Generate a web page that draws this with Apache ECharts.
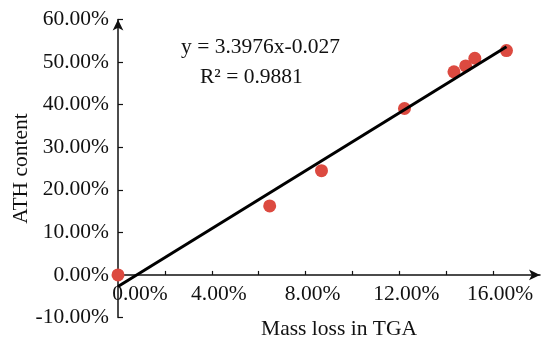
<!DOCTYPE html>
<html>
<head>
<meta charset="utf-8">
<script src="https://cdn.jsdelivr.net/npm/echarts@6/dist/echarts.min.js"></script>
<style>html,body{margin:0;padding:0;background:#fff}#c{width:550px;height:348px}</style>
</head>
<body>
<div id="c"></div>
<script>
var massLoss = [0.0, 0.0647, 0.0868, 0.1222, 0.1433, 0.1483, 0.1522, 0.1657];
var athContent = [0.0, 0.162, 0.245, 0.391, 0.477, 0.491, 0.509, 0.527];
var trendSlope = 3.3976;
var trendIntercept = -0.027;
var equationText = 'y = 3.3976x-0.027';
var r2Text = 'R² = 0.9881';
var xAxisName = 'Mass loss in TGA';
var yAxisName = 'ATH content';

var FONT = '"Liberation Serif", "Times New Roman", serif';
var FS = 21.5;
var GRID_TOP = 19.5, GRID_BOTTOM = 30.5, H = 348;
var yMin = -0.1, yMax = 0.6;
// move x axis up to the y = 0 level
var plotH = H - GRID_TOP - GRID_BOTTOM;
var xOffset = -plotH * (0 - yMin) / (yMax - yMin);

var pts = massLoss.map(function (x, i) { return [x, athContent[i]]; });
var xEnd = Math.max.apply(null, massLoss);
var trend = [[0, trendIntercept], [xEnd, trendSlope * xEnd + trendIntercept]];

var chart = echarts.init(document.getElementById('c'), null, {renderer: 'canvas'});
chart.setOption({
  animation: false,
  backgroundColor: '#fff',
  grid: {left: 118, right: 10, top: GRID_TOP, bottom: GRID_BOTTOM, containLabel: false, outerBoundsMode: 'none'},
  xAxis: {
    type: 'value', min: 0, max: 0.18, interval: 0.02, position: 'bottom', offset: xOffset,
    name: xAxisName, nameLocation: 'middle', nameGap: 43, nameMoveOverlap: false,
    nameTextStyle: {fontFamily: FONT, fontSize: FS, color: '#111', padding: [0, 0, 0, 20], verticalAlign: 'top'},
    axisLine: {onZero: false, lineStyle: {color: '#111', width: 1.5}, symbol: ['none', 'arrow'], symbolSize: [8, 11]},
    axisTick: {inside: true, length: 4, lineStyle: {color: '#111', width: 1.2}},
    splitLine: {show: false},
    axisLabel: {
      margin: 8, fontFamily: FONT, fontSize: FS, color: '#111',
      showMaxLabel: false,
      formatter: function (v, i) {
        if (i % 2 !== 0) return '';
        var t = (v * 100).toFixed(2) + '%';
        return i === 0 ? '{z|' + t + '}' : '{n|' + t + '}';
      },
      rich: {
        z: {fontFamily: FONT, fontSize: FS, color: '#111', padding: [0, 0, 0, 44]},
        n: {fontFamily: FONT, fontSize: FS, color: '#111', padding: [0, 0, 0, 14]}
      }
    }
  },
  yAxis: {
    type: 'value', min: yMin, max: yMax, interval: 0.1,
    name: yAxisName, nameLocation: 'middle', nameGap: 86, nameRotate: 90, nameMoveOverlap: false,
    nameTextStyle: {fontFamily: FONT, fontSize: FS, color: '#111'},
    axisLine: {show: true, lineStyle: {color: '#111', width: 1.5}, symbol: ['none', 'arrow'], symbolSize: [8, 11]},
    axisTick: {show: true, inside: true, length: 5, lineStyle: {color: '#111', width: 1.2}},
    splitLine: {show: false},
    axisLabel: {
      margin: 9, fontFamily: FONT, fontSize: FS, color: '#111',
      formatter: function (v) { return (v * 100).toFixed(2) + '%'; }
    }
  },
  series: [
    {
      type: 'scatter', data: pts, symbol: 'circle', symbolSize: 13,
      itemStyle: {color: '#dc4a40', opacity: 1}, z: 2
    },
    {
      type: 'line', data: trend, symbol: 'none',
      lineStyle: {color: '#000', width: 3}, z: 3
    }
  ],
  graphic: [
    {type: 'text', left: 181, top: 36, style: {text: equationText, font: FS + 'px ' + FONT, fill: '#111'}},
    {type: 'text', left: 200, top: 66, style: {text: r2Text, font: FS + 'px ' + FONT, fill: '#111'}}
  ]
});
</script>
</body>
</html>
